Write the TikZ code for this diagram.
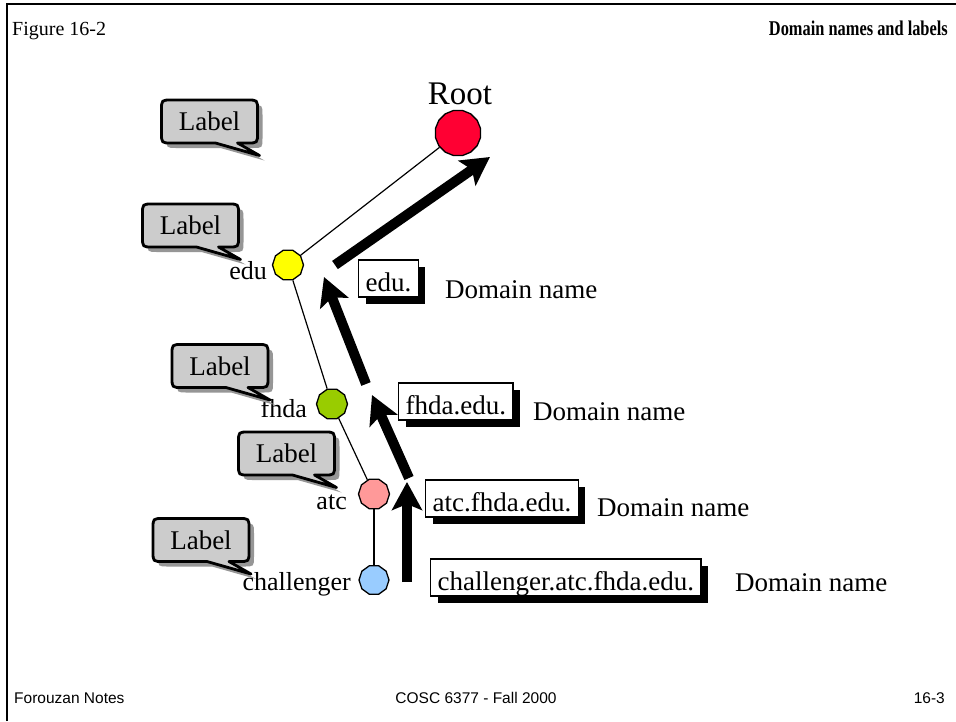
\documentclass[tikz,border=0pt]{standalone}
\usepackage{fontspec}
\setmainfont{Liberation Serif}
\newfontfamily\footfont{Liberation Sans}
\newfontfamily\headfont[FakeStretch=0.78]{Liberation Serif}
\usetikzlibrary{arrows.meta,shapes.geometric,shadows}
\definecolor{rootred}{RGB}{255,0,51}
\definecolor{eduyellow}{RGB}{255,255,0}
\definecolor{fhdagreen}{RGB}{153,204,0}
\definecolor{atcpink}{RGB}{255,153,153}
\definecolor{chalblue}{RGB}{153,204,255}
\definecolor{bubblegray}{RGB}{204,204,204}
\definecolor{shadowgray}{RGB}{150,150,150}
\tikzset{
  treenode/.style={regular polygon, regular polygon sides=10, draw, line width=1.3pt, inner sep=0pt, minimum size=31pt},
  treeline/.style={line width=1.2pt},
  namelabel/.style={font=\fontsize{26}{28}\selectfont, inner sep=0pt, anchor=base east},
  dombox/.style={draw, line width=1.2pt, fill=white, inner xsep=7pt, inner ysep=0pt,
    text height=31pt, text depth=6pt, anchor=base west, font=\fontsize{27}{30}\selectfont,
    drop shadow={shadow xshift=7pt, shadow yshift=-7pt, fill=black, opacity=1}},
  domtext/.style={font=\fontsize{27}{30}\selectfont, inner sep=0pt, anchor=base west},
  bubbletext/.style={font=\fontsize{27}{30}\selectfont, inner sep=0pt},
  bubbleline/.style={fill=bubblegray, draw=black, line width=2.8pt, line join=round},
  bigarrow/.style={line width=10pt, -{Stealth[length=28pt,width=30pt,inset=6pt]}},
}
\newcommand\speechbubble[3]{%
  \begin{scope}[shift={(#2,#3)}]
    \fill[shadowgray,shift={(5,5)}] (6,21.5) -- (-38,21.5) .. controls (-48,21.5) .. (-48,11.5) -- (-48,-11.5) .. controls (-48,-21.5) .. (-38,-21.5) -- (38,-21.5) .. controls (48,-21.5) .. (48,-11.5) -- (48,11.5) .. controls (48,21.5) .. (38,21.5) -- (28,21.5) -- (50,34) -- cycle;
    \path[bubbleline] (6,21.5) -- (-38,21.5) .. controls (-48,21.5) .. (-48,11.5) -- (-48,-11.5) .. controls (-48,-21.5) .. (-38,-21.5) -- (38,-21.5) .. controls (48,-21.5) .. (48,-11.5) -- (48,11.5) .. controls (48,21.5) .. (38,21.5) -- (28,21.5) -- (50,34) -- cycle;
  \end{scope}
  \node[bubbletext] (#1) at (#2,#3) {Label};%
}
\begin{document}
\begin{tikzpicture}[x=1pt,y=-1pt]
\useasboundingbox[fill=white] (0,0) rectangle (956,721);
% frame
\draw[line width=2pt] (7,721) -- (7,4) -- (956,4);
% header / footer
\node[font=\fontsize{20}{22}\selectfont, inner sep=0pt, anchor=base west] (title) at (12,35) {Figure 16-2};
\node[font=\headfont\fontsize{21}{24}\selectfont\bfseries, inner sep=0pt, anchor=base east] (heading) at (948,35) {Domain names and labels};
\node[font=\footfont\fontsize{15.5}{17}\selectfont, inner sep=0pt, anchor=base west] (foot1) at (14,703) {Forouzan Notes};
\node[font=\footfont\fontsize{15.5}{17}\selectfont, inner sep=0pt, anchor=base] (foot2) at (476,703) {COSC 6377 - Fall 2000};
\node[font=\footfont\fontsize{15.5}{17}\selectfont, inner sep=0pt, anchor=base east] (foot3) at (945,703) {16-3};
% tree
\node[regular polygon, regular polygon sides=16, draw, line width=1.3pt, inner sep=0pt, minimum size=46pt, fill=rootred] (root) at (458,133) {};
\node[treenode, fill=eduyellow] (edu) at (288,265) {};
\node[treenode, fill=fhdagreen] (fhda) at (332,404) {};
\node[treenode, fill=atcpink] (atc) at (374,494) {};
\node[treenode, fill=chalblue, minimum size=30pt] (chal) at (374,580) {};
\draw[treeline] (root) -- (edu);
\draw[treeline] (edu) -- (fhda);
\draw[treeline] (fhda) -- (atc);
\draw[treeline] (atc) -- (chal);
\node[font=\fontsize{33}{36}\selectfont, inner sep=0pt, anchor=base] (roottext) at (460,104) {Root};
\node[namelabel] (edulabel) at (267,279) {edu};
\node[namelabel] (fhdalabel) at (307,417) {fhda};
\node[namelabel] (atclabel) at (347,509) {atc};
\node[namelabel] (challabel) at (351,590) {challenger};
% bubbles
\speechbubble{b1}{209.5}{121.5}
\speechbubble{b2}{190.5}{225.5}
\speechbubble{b3}{220}{366}
\speechbubble{b4}{286.5}{453.5}
\speechbubble{b5}{201}{540}
% domain boxes
\node[dombox] (d1) at (358,291) {edu.};
\node[dombox] (d2) at (398,414) {fhda.edu.};
\node[dombox] (d3) at (425,511) {atc.fhda.edu.};
\node[dombox] (d4) at (430,590) {challenger.atc.fhda.edu.};
\node[domtext] (n1) at (445,298) {Domain name};
\node[domtext] (n2) at (533,420) {Domain name};
\node[domtext] (n3) at (597,516) {Domain name};
\node[domtext] (n4) at (735,591) {Domain name};
% arrows
\coordinate (a1s) at (335,265);
\coordinate (a1e) at (490,157);
\coordinate (a2s) at (366,384);
\coordinate (a2e) at (324,277);
\coordinate (a3s) at (409,478);
\coordinate (a3e) at (372,395);
\coordinate (a4s) at (407,582);
\coordinate (a4e) at (407,482);
\draw[bigarrow] (a1s) -- (a1e);
\draw[bigarrow] (a2s) -- (a2e);
\draw[bigarrow] (a3s) -- (a3e);
\draw[bigarrow] (a4s) -- (a4e);
\end{tikzpicture}
\end{document}
